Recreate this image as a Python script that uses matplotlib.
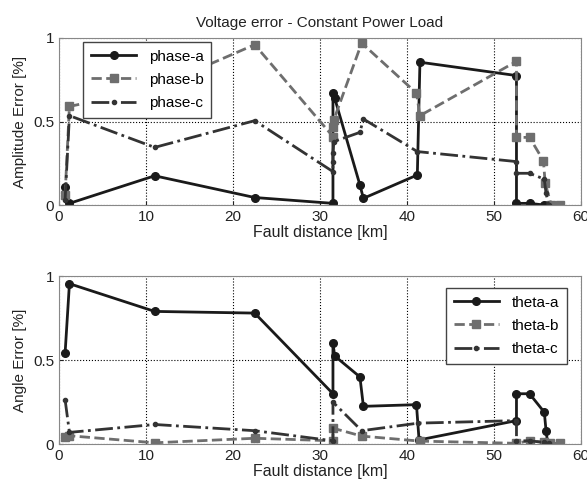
import matplotlib
matplotlib.use("Agg")
import matplotlib.pyplot as plt

plt.rcParams["font.family"] = ["Liberation Sans", "DejaVu Sans"]

# amplitude error, constant power load
pa_x = [0.7, 1.2, 11, 22.5, 31.5, 31.5, 31.7, 34.6, 35.0, 41.2, 41.5, 52.6, 52.6, 54.1, 55.8, 56.2]
pa_y = [0.11, 0.01, 0.175, 0.045, 0.01, 0.67, 0.64, 0.12, 0.04, 0.18, 0.855, 0.775, 0.01, 0.01, 0.0, 0.0]
pb_x = [0.7, 1.2, 11, 22.5, 31.5, 31.5, 31.6, 34.8, 41.1, 41.5, 52.6, 52.6, 54.1, 55.7, 55.9, 56.6, 57.6]
pb_y = [0.06, 0.59, 0.7, 0.96, 0.41, 0.47, 0.51, 0.97, 0.67, 0.535, 0.86, 0.405, 0.405, 0.265, 0.13, 0.0, 0.0]
pc_x = [0.7, 1.2, 11, 22.5, 31.5, 31.5, 31.5, 31.6, 34.6, 35.0, 41.2, 52.6, 52.6, 54.1, 55.8, 56.0, 56.3]
pc_y = [0.03, 0.535, 0.345, 0.505, 0.2, 0.26, 0.31, 0.38, 0.435, 0.515, 0.32, 0.26, 0.19, 0.19, 0.155, 0.07, 0.0]

# angle error
ta_x = [0.7, 1.2, 11, 22.5, 31.5, 31.5, 31.7, 34.6, 35.0, 41.1, 41.4, 52.6, 52.6, 54.1, 55.8, 56.0, 56.2]
ta_y = [0.54, 0.955, 0.79, 0.78, 0.30, 0.60, 0.525, 0.40, 0.225, 0.235, 0.025, 0.14, 0.30, 0.30, 0.19, 0.08, 0.0]
tb_x = [0.7, 1.2, 11, 22.5, 31.5, 31.5, 34.8, 41.5, 52.6, 54.1, 55.8, 56.5, 57.6]
tb_y = [0.045, 0.05, 0.008, 0.035, 0.02, 0.095, 0.048, 0.018, 0.005, 0.02, 0.01, 0.005, 0.005]
tc_x = [0.7, 1.2, 11, 22.5, 31.5, 31.5, 34.8, 41.3, 52.6, 52.6, 54.1, 55.8, 56.3]
tc_y = [0.265, 0.07, 0.117, 0.08, 0.02, 0.25, 0.08, 0.125, 0.14, 0.02, 0.02, 0.01, 0.005]

fig = plt.figure(figsize=(5.87, 4.87), dpi=100)
ax1 = fig.add_axes([0.1005, 0.579, 0.889, 0.343])
ax2 = fig.add_axes([0.1005, 0.088, 0.889, 0.345])

sa = dict(color="#1a1a1a", ls="-", lw=2, marker="o", ms=5.5)
sb = dict(color="#6e6e6e", ls="--", lw=2, marker="s", ms=6)
sc = dict(color="#333333", ls="-.", lw=2, marker=".", ms=6)

ax1.plot(pa_x, pa_y, label="phase-a", **sa)
ax1.plot(pb_x, pb_y, label="phase-b", **sb)
ax1.plot(pc_x, pc_y, label="phase-c", **sc)
ax2.plot(ta_x, ta_y, label="theta-a", **sa)
ax2.plot(tb_x, tb_y, label="theta-b", **sb)
ax2.plot(tc_x, tc_y, label="theta-c", **sc)

for ax, ylab in [(ax1, "Amplitude Error [%]"), (ax2, "Angle Error [%]")]:
    ax.set_xlim(0, 60)
    ax.set_ylim(0, 1)
    ax.set_xticks([0, 10, 20, 30, 40, 50, 60])
    ax.set_yticks([0, 0.5, 1])
    ax.set_yticklabels(["0", "0.5", "1"])
    ax.grid(True, color="black", ls=":", lw=0.8)
    ax.tick_params(labelsize=11, colors="#222222", length=3, direction="in")
    for s in ax.spines.values():
        s.set_color("#888888")
    ax.set_xlabel("Fault distance [km]", fontsize=11.5, color="#222222", labelpad=1)
    ax.set_ylabel(ylab, fontsize=11, color="#222222", labelpad=4)

ax1.set_title("Voltage error - Constant Power Load", fontsize=11, color="#222222", pad=8)

leg_kw = dict(fontsize=11, frameon=True, fancybox=False, framealpha=1,
              edgecolor="#444444", handlelength=3, borderpad=0.5,
              labelspacing=0.6, borderaxespad=0)
l1 = ax1.legend(loc="upper left", bbox_to_anchor=(0.046, 0.976), **leg_kw)
l2 = ax2.legend(loc="upper right", bbox_to_anchor=(0.973, 0.93), **leg_kw)

fig.savefig("out.png", dpi=100)
